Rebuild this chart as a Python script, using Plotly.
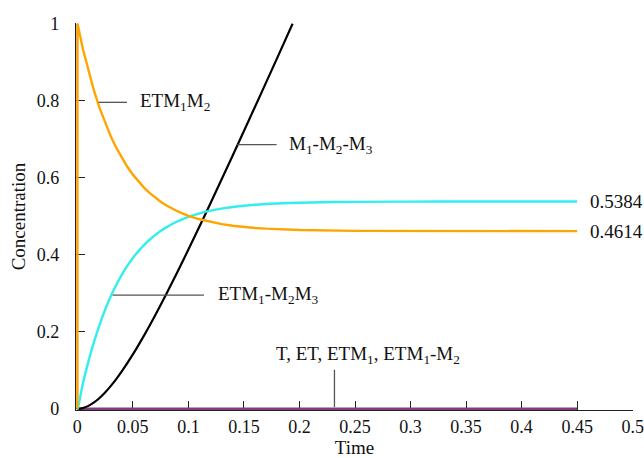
import plotly.graph_objects as go

# Time points
time = [0, 0.0002, 0.005, 0.01, 0.015, 0.02, 0.025, 0.03, 0.035, 0.04,
        0.045, 0.05, 0.055, 0.06, 0.065, 0.07, 0.075, 0.08, 0.085, 0.09,
        0.095, 0.1, 0.11, 0.12, 0.13, 0.14, 0.15, 0.16, 0.17, 0.18,
        0.2, 0.25, 0.3, 0.35, 0.4, 0.45]

# ETM1M2 (orange)
etm1m2 = [0, 1.0, 0.9343, 0.8767, 0.8261, 0.7816, 0.7425, 0.7083, 0.6782, 0.6518,
          0.6286, 0.6082, 0.5903, 0.5746, 0.5608, 0.5487, 0.5380, 0.5287, 0.5205, 0.5133,
          0.5070, 0.5014, 0.4923, 0.4852, 0.4797, 0.4756, 0.4723, 0.4698, 0.4679, 0.4664,
          0.4644, 0.4622, 0.4616, 0.4614, 0.4614, 0.4614]

# ETM1-M2M3 (cyan)
etm1_m2m3 = [0, 0.0, 0.0656, 0.1232, 0.1738, 0.2183, 0.2574, 0.2916, 0.3217, 0.3481,
             0.3713, 0.3917, 0.4096, 0.4253, 0.4391, 0.4512, 0.4618, 0.4712, 0.4793, 0.4865,
             0.4928, 0.4984, 0.5075, 0.5146, 0.5201, 0.5242, 0.5275, 0.5300, 0.5319, 0.5334,
             0.5354, 0.5376, 0.5382, 0.5384, 0.5384, 0.5384]

# M1-M2-M3 (black), rises until it leaves the top of the chart
time_prod = [0, 0.005, 0.01, 0.015, 0.02, 0.025, 0.03, 0.035, 0.04, 0.05, 0.06, 0.07, 0.08,
             0.09, 0.1, 0.12, 0.14, 0.16, 0.18, 0.1938]
m1_m2_m3 = [0, 0.0020, 0.0077, 0.0166, 0.0283, 0.0425, 0.0589, 0.0772, 0.0972, 0.1414,
            0.1902, 0.2426, 0.2977, 0.3548, 0.4136, 0.5346, 0.6587, 0.7845, 0.9114, 1.0]

# T (starts at 1, vanishes at once) and the other intermediates (stay at ~0)
t_species = [1.0, 0] + [0] * (len(time) - 2)
intermediates = [0] * len(time)

x_ticks = [0, 0.05, 0.1, 0.15, 0.2, 0.25, 0.3, 0.35, 0.4, 0.45, 0.5]
x_tick_labels = ["0", "0.05", "0.1", "0.15", "0.2", "0.25", "0.3", "0.35", "0.4", "0.45", "0.5"]
y_ticks = [0, 0.2, 0.4, 0.6, 0.8, 1]
y_tick_labels = ["0", "0.2", "0.4", "0.6", "0.8", "1"]

FONT = "Liberation Serif"
ORANGE = "#FFA500"
CYAN = "#33EEEE"
PURPLE = "#7F3F7F"
LEAD = "#555555"

fig = go.Figure()
fig.add_trace(go.Scatter(x=time, y=t_species, mode="lines",
                         line=dict(color="#1a1aa0", width=1.2), hoverinfo="skip"))
fig.add_trace(go.Scatter(x=time, y=intermediates, mode="lines",
                         line=dict(color=PURPLE, width=2.6), hoverinfo="skip"))
fig.add_trace(go.Scatter(x=time_prod, y=m1_m2_m3, mode="lines", line_shape="spline",
                         line=dict(color="black", width=2.2)))
fig.add_trace(go.Scatter(x=time, y=etm1_m2m3, mode="lines", line_shape="spline",
                         line=dict(color=CYAN, width=2.4)))
fig.add_trace(go.Scatter(x=time, y=etm1m2, mode="lines", line_shape="linear",
                         line=dict(color=ORANGE, width=2.4)))

# leader lines
leaders = [
    (0.0192, 0.796, 0.0447, 0.796),
    (0.1441, 0.6863, 0.1794, 0.6863),
    (0.0318, 0.2951, 0.1141, 0.2951),
    (0.2315, 0.0044, 0.2315, 0.1015),
]
for x0, y0, x1, y1 in leaders:
    fig.add_shape(type="line", x0=x0, y0=y0, x1=x1, y1=y1, xref="x", yref="y",
                  line=dict(color=LEAD, width=1.3))

labels = [
    (0.0543, 0.796, "ETM<sub>1</sub>M<sub>2</sub>", "left"),
    (0.189, 0.6863, "M<sub>1</sub>-M<sub>2</sub>-M<sub>3</sub>", "left"),
    (0.1246, 0.2951, "ETM<sub>1</sub>-M<sub>2</sub>M<sub>3</sub>", "left"),
    (0.2616, 0.140, "T, ET, ETM<sub>1</sub>, ETM<sub>1</sub>-M<sub>2</sub>", "center"),
    (0.4598, 0.5384, "0.5384", "left"),
    (0.4598, 0.4614, "0.4614", "left"),
]
for x, y, txt, anc in labels:
    fig.add_annotation(x=x, y=y, text=txt, showarrow=False, xanchor=anc, yanchor="middle",
                       font=dict(family=FONT, size=19, color="#111111"))

axis_common = dict(showline=True, linecolor="#222222", linewidth=1.2, ticks="inside",
                   ticklen=9, tickwidth=1.2, tickcolor="#222222", showgrid=False,
                   zeroline=False, layer="below traces", automargin=False,
                   tickfont=dict(family=FONT, size=18, color="#111111"),
                   title_font=dict(family=FONT, size=19, color="#111111"))

fig.update_xaxes(range=[-0.0012, 0.5003], tickvals=x_ticks, ticktext=x_tick_labels,
                 title_text="Time", title_standoff=6, **axis_common)
fig.update_yaxes(range=[-0.003, 1.002], tickvals=y_ticks, ticktext=y_tick_labels,
                 title_text="Concentration", title_standoff=6, ticklabelstandoff=12,
                 **axis_common)

fig.update_layout(width=644, height=458, showlegend=False,
                  margin=dict(l=76, r=11, t=23, b=48, autoexpand=False),
                  paper_bgcolor="white", plot_bgcolor="white")

fig.write_html("out.html", config={"displayModeBar": False},
               post_script="document.body.style.margin='0';document.body.style.overflow='hidden';")
